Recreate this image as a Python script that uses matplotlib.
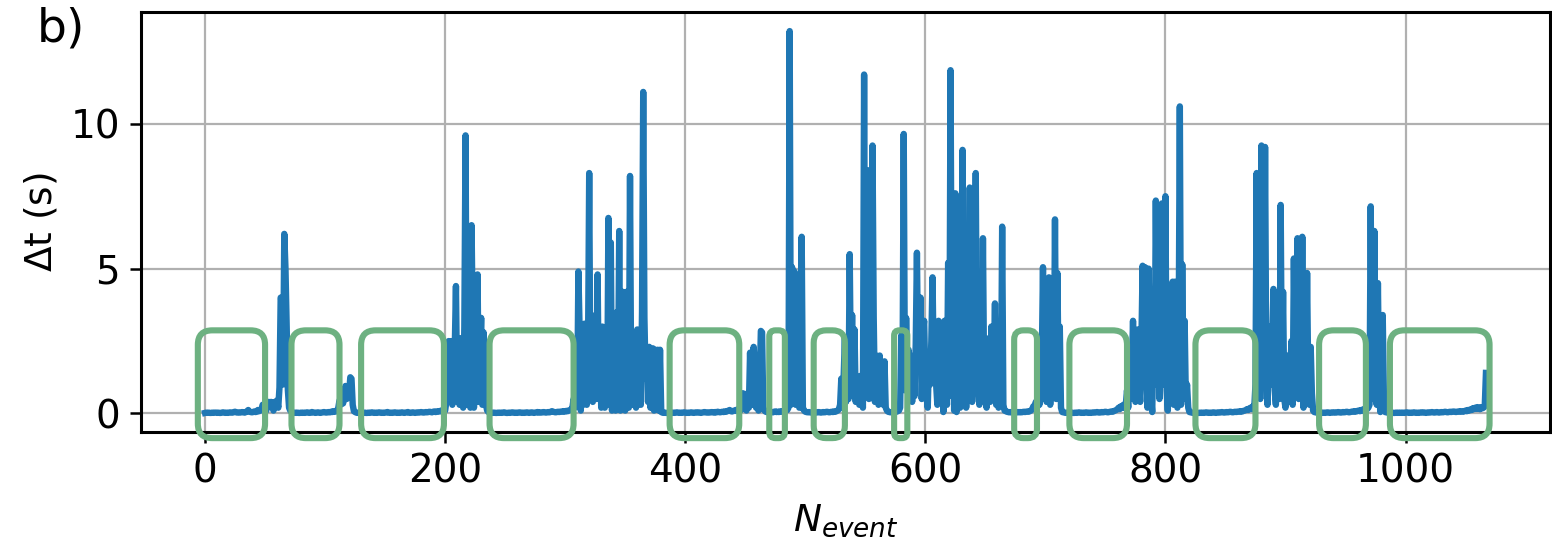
import numpy as np
import matplotlib
matplotlib.use("Agg")
import matplotlib.pyplot as plt
from matplotlib.patches import FancyBboxPatch

# ---- data: Delta t per event, written segment by segment ----
seg01 = [0.02,0.03,0.02,0.03,0.02,0.02,0.03,0.02,0.03,0.03,
         0.02,0.03,0.02,0.02,0.03,0.04,0.03,0.02,0.03,0.02,
         0.03,0.04,0.03,0.03,0.05,0.06,0.04,0.03,0.04,0.03,
         0.04,0.05,0.04,0.03,0.05,0.08,0.12,0.06,0.05,0.04,
         0.05,0.07,0.05,0.06,0.12,0.08,0.10]
seg02 = [0.15,0.30,0.20,0.35,0.10,0.30,0.40,0.25,0.40,0.30,0.10,0.40,0.35,
         0.45,0.20,0.90,4.00,3.90,1.00,6.20,5.00,3.00,0.80,0.20,0.10]
seg03 = [0.05,0.03,0.02,0.03,0.02,0.03,0.02,0.02,0.03,0.02,
         0.03,0.02,0.03,0.04,0.03,0.02,0.03,0.05,0.04,0.03,
         0.02,0.03,0.04,0.03,0.02,0.03,0.04,0.05,0.04,0.03,
         0.04,0.05,0.04,0.06,0.05,0.08,0.06,0.07,0.10]
seg04 = [0.20,0.45,0.30,0.55,0.35,0.65,0.95,0.50,0.95,0.70,1.25,1.20,0.30,0.08]
seg05 = [0.05,0.03,0.02,0.03,0.02,0.02,0.03,0.02,0.03,0.02,
         0.02,0.03,0.02,0.03,0.04,0.03,0.02,0.03,0.02,0.03,
         0.04,0.03,0.02,0.03,0.02,0.03,0.04,0.05,0.03,0.02,
         0.03,0.02,0.03,0.04,0.03,0.02,0.03,0.02,0.03,0.04,
         0.03,0.02,0.03,0.04,0.05,0.03,0.02,0.03,0.04,0.03,
         0.02,0.03,0.04,0.03,0.04,0.05,0.04,0.03,0.04,0.05,
         0.04,0.05,0.06,0.05,0.04,0.06,0.07,0.05,0.06,0.08,
         0.07,0.09,0.08,0.12,0.10]
seg06 = [0.10,0.40,1.00,2.50,1.40,2.50,0.30,1.60,2.20,4.40,0.60,2.00,0.30,2.60,
         1.10,0.20,3.00,9.60,0.30,2.50,1.00,0.20,6.50,3.00,0.20,1.80,2.50,4.80,
         0.40,2.00,3.30,0.30,2.80,1.00,0.30,0.10]
seg07 = [0.05,0.03,0.02,0.03,0.02,0.03,0.02,0.02,0.03,0.02,
         0.03,0.02,0.03,0.04,0.03,0.02,0.02,0.03,0.02,0.03,
         0.04,0.03,0.02,0.03,0.02,0.03,0.04,0.03,0.02,0.03,
         0.02,0.03,0.04,0.03,0.02,0.03,0.04,0.03,0.02,0.03,
         0.04,0.05,0.03,0.04,0.03,0.04,0.05,0.04,0.03,0.04,
         0.05,0.04,0.06,0.08,0.06,0.05,0.04,0.05,0.06,0.05,
         0.06,0.07,0.06,0.08,0.07,0.09,0.08,0.10,0.12,0.15]
seg08 = [0.20,0.50,0.20,1.20,0.40,4.90,2.90,0.10,1.80,0.30,
         3.10,1.20,0.30,2.00,8.30,0.80,3.40,0.40,3.00,1.20,
         0.50,4.80,0.60,2.80,0.20,3.00,1.50,0.20,2.50,0.30,
         6.75,0.50,5.90,0.10,2.00,1.40,0.10,3.50,0.60,6.30,
         0.10,2.50,4.20,1.60,0.10,4.20,1.00,0.20,8.20,0.50,
         1.50,0.30,2.20,0.20,2.90,1.20,2.00,0.30,3.50,11.10,
         3.30,1.20,2.30,0.40,2.30,0.20,2.20,2.25,0.10,2.20,
         0.30,2.20,0.10,2.20,0.05]
seg09 = [0.03,0.02,0.03,0.02,0.02,0.03,0.02,0.03,0.02,0.03,
         0.02,0.03,0.04,0.03,0.02,0.03,0.02,0.03,0.04,0.03,
         0.02,0.03,0.02,0.03,0.04,0.03,0.02,0.03,0.04,0.03,
         0.04,0.03,0.02,0.03,0.04,0.05,0.04,0.03,0.04,0.03,
         0.04,0.05,0.04,0.03,0.05,0.04,0.06,0.05,0.04,0.05,
         0.06,0.05,0.07,0.06,0.08,0.10,0.12,0.08,0.07,0.09,
         0.10,0.12,0.10,0.15,0.12]
seg10 = [0.10,0.20,0.70,0.30,0.50,0.10,0.70,0.20,2.10,0.40,0.30,2.30,1.60,0.20,
         0.60,0.10,1.00,2.85,2.80,0.20,0.10]
seg11 = [0.06,0.05,0.04,0.05,0.06,0.05,0.04,0.06,0.07,0.05,0.06,0.05,0.07,0.06,
         0.08,0.07,0.09,0.10,0.12]
seg12 = [0.20,13.20,0.30,5.05,2.00,4.90,0.30,4.55,2.50,0.20,0.60,6.10,0.20,0.10]
seg13 = [0.06,0.05,0.04,0.05,0.04,0.03,0.04,0.05,0.04,0.03,
         0.04,0.05,0.04,0.03,0.04,0.05,0.04,0.05,0.06,0.05,
         0.04,0.05,0.06,0.05,0.07,0.06,0.08,0.10,0.15]
seg14 = [0.30,1.20,0.20,1.30,2.60,0.40,2.00,0.50,5.50,1.20,
         3.40,0.60,2.90,0.40,1.10,0.70,0.30,1.30,0.60,0.20,
         11.70,0.80,2.30,8.40,0.50,2.00,1.00,9.25,3.30,0.40,
         2.00,1.20,0.30,2.00,0.80,1.50,0.30,1.80,0.20,0.10]
seg15 = [0.06,0.05,0.04,0.05,0.06,0.05,0.07,0.06,0.08,0.10]
seg16 = [0.20,2.70,1.20,9.65,0.80,3.30,1.50,2.20,1.00,2.00,
         0.40,1.80,0.60,2.40,5.55,1.50,2.30,4.00,0.50,2.80,
         3.20,1.20,0.60,0.20,1.80,1.00,2.50,4.70,1.50,2.00,
         1.00,0.30,3.20,1.40,0.50,2.60,0.05,3.20,1.20,0.30,
         5.20,0.60,11.85,2.00,5.20,0.10,7.60,0.05,2.50,4.50,
         0.20,1.80,9.10,2.00,5.70,0.20,1.50,0.80,7.80,2.50,
         0.40,1.00,3.00,8.30,1.20,2.20,0.30,1.50,0.60,6.05,
         1.00,2.40,0.20,1.20,2.60,0.40,3.00,0.50,1.50,3.80,
         0.30,1.50,0.20,2.00,0.40,6.45,0.30,0.10]
seg17 = [0.08,0.06,0.05,0.04,0.05,0.04,0.05,0.04,0.03,0.04,0.05,0.04,
         0.05,0.04,0.05,0.06,0.05,0.06,0.07,0.06,0.08,0.10,0.15,0.25]
seg18 = [0.20,0.40,0.20,1.00,0.30,1.00,1.80,5.05,0.70,1.50,0.40,1.10,
         4.70,0.30,1.10,2.00,0.60,6.70,0.50,4.85,1.20,3.00,0.20,0.05]
seg19 = [0.04,0.03,0.02,0.03,0.02,0.03,0.02,0.03,0.02,0.02,
         0.03,0.02,0.03,0.04,0.03,0.02,0.03,0.02,0.03,0.04,
         0.03,0.02,0.03,0.02,0.03,0.04,0.03,0.04,0.05,0.04,
         0.03,0.04,0.05,0.04,0.05,0.06,0.05,0.04,0.05,0.06,
         0.07,0.06,0.08,0.10,0.12,0.15,0.20,0.15,0.25,0.20,
         0.30,0.20]
seg20 = [0.30,0.80,0.20,1.20,0.50,1.50,3.20,1.10,0.40,2.00,
         2.90,1.00,0.40,2.50,5.10,1.20,5.05,1.50,0.20,5.00,
         2.00,0.60,0.05,2.50,1.00,7.35,2.50,6.00,0.50,2.00,
         7.25,1.00,3.00,7.50,0.80,0.10,2.50,1.00,3.50,4.55,
         0.30,4.55,1.00,0.20,2.50,10.60,0.30,5.15,1.50,3.20,
         0.50,1.00,0.20,0.05]
seg21 = [0.04,0.03,0.02,0.03,0.02,0.03,0.02,0.02,0.03,0.02,
         0.03,0.02,0.03,0.04,0.03,0.02,0.03,0.02,0.03,0.04,
         0.03,0.02,0.03,0.04,0.03,0.04,0.05,0.04,0.03,0.04,
         0.05,0.04,0.05,0.06,0.05,0.04,0.05,0.06,0.05,0.06,
         0.07,0.06,0.08,0.07,0.09,0.10,0.12,0.15,0.12,0.18,
         0.20,0.15,0.25,0.20]
seg22 = [1.00,8.30,1.50,3.00,0.50,9.25,2.00,1.50,9.20,1.60,
         0.30,2.00,3.00,1.00,2.50,4.30,0.80,0.30,2.50,1.20,
         0.50,7.20,1.00,4.20,0.50,0.20,1.20,2.00,0.40,1.50,
         2.50,0.30,5.35,1.20,2.00,6.05,0.50,2.50,1.00,6.10,
         0.20,1.50,0.50,4.85,1.00,0.30,2.30,0.70,0.10]
seg23 = [0.05,0.04,0.03,0.04,0.03,0.02,0.03,0.02,0.03,0.02,
         0.03,0.04,0.03,0.02,0.03,0.04,0.03,0.04,0.03,0.04,
         0.05,0.04,0.03,0.04,0.05,0.04,0.05,0.06,0.05,0.04,
         0.05,0.06,0.07,0.06,0.08,0.07,0.09,0.10,0.08,0.12,
         0.10,0.15,0.12,0.18,0.15,0.20]
seg24 = [0.30,7.15,1.00,0.50,6.30,1.50,0.30,4.50,0.80,0.05,1.50,3.40,0.50,0.05]
seg25 = [0.04,0.03,0.02,0.03,0.02,0.03,0.02,0.02,0.03,0.02,
         0.03,0.02,0.03,0.02,0.03,0.02,0.03,0.04,0.03,0.02,
         0.03,0.02,0.03,0.04,0.03,0.02,0.03,0.02,0.03,0.04,
         0.03,0.04,0.03,0.02,0.03,0.04,0.03,0.04,0.05,0.04,
         0.03,0.04,0.05,0.04,0.03,0.04,0.05,0.04,0.05,0.06,
         0.05,0.04,0.05,0.06,0.05,0.06,0.07,0.06,0.05,0.06,
         0.07,0.06,0.08,0.07,0.06,0.08,0.10,0.08,0.12,0.10,
         0.14,0.12,0.18,0.15,0.20,0.16,0.22,0.18,0.15,0.22,
         0.18,0.20,0.25]
seg26 = [1.40]

segments = [seg01, seg02, seg03, seg04, seg05, seg06, seg07, seg08, seg09,
            seg10, seg11, seg12, seg13, seg14, seg15, seg16, seg17, seg18,
            seg19, seg20, seg21, seg22, seg23, seg24, seg25, seg26]
delta_t = np.concatenate([np.asarray(s, dtype=float) for s in segments])
n_event = np.arange(len(delta_t))

# quiet intervals highlighted with green boxes (in N_event units)
box_start = [-6, 72, 130, 237, 387, 470, 507, 574, 674, 720, 825, 928, 987]
box_end = [50, 112, 199, 307, 445, 483, 533, 585, 693, 768, 875, 967, 1070]
box_ylow = -0.85
box_yhigh = 2.87

xticks = [0, 200, 400, 600, 800, 1000]
yticks = [0, 5, 10]

# ---- figure ----
W, H, DPI = 1552, 542, 200
fig = plt.figure(figsize=(W / DPI, H / DPI), dpi=DPI)
ax = fig.add_axes([141 / W, 110 / H, 1409 / W, 420 / H])

ax.plot(n_event, delta_t, color="#1f77b4", lw=2.3, zorder=2)
ax.margins(x=0.05, y=0.05)
xl = ax.get_xlim()
yl = ax.get_ylim()

# aspect so that rounded corners look circular in pixels
bbox = ax.get_window_extent()
aspect = ((yl[1] - yl[0]) / bbox.height) / ((xl[1] - xl[0]) / bbox.width)

for x0, x1 in zip(box_start, box_end):
    w = x1 - x0
    r = min(12.0, 0.4 * w)
    p = FancyBboxPatch((x0, box_ylow), w, box_yhigh - box_ylow,
                       boxstyle=f"round,pad=0,rounding_size={r}",
                       mutation_aspect=aspect,
                       fill=False, edgecolor="#6db181", lw=2.2,
                       clip_on=False, zorder=3)
    ax.add_patch(p)

ax.set_xlim(xl)
ax.set_ylim(yl)
ax.set_xticks(xticks)
ax.set_yticks(yticks)
ax.grid(True, color="#b0b0b0", lw=0.8)
ax.set_axisbelow(True)
for s in ax.spines.values():
    s.set_linewidth(1.1)
ax.tick_params(labelsize=14, length=4, width=0.9)
ax.set_xlabel(r"$N_{event}$", fontsize=13.5)
ax.set_ylabel(r"$\Delta$t (s)", fontsize=13.5)
fig.text(37 / W, 1 - 6 / H, "b)", fontsize=17, va="top", ha="left")

fig.savefig("out.png", dpi=DPI)
